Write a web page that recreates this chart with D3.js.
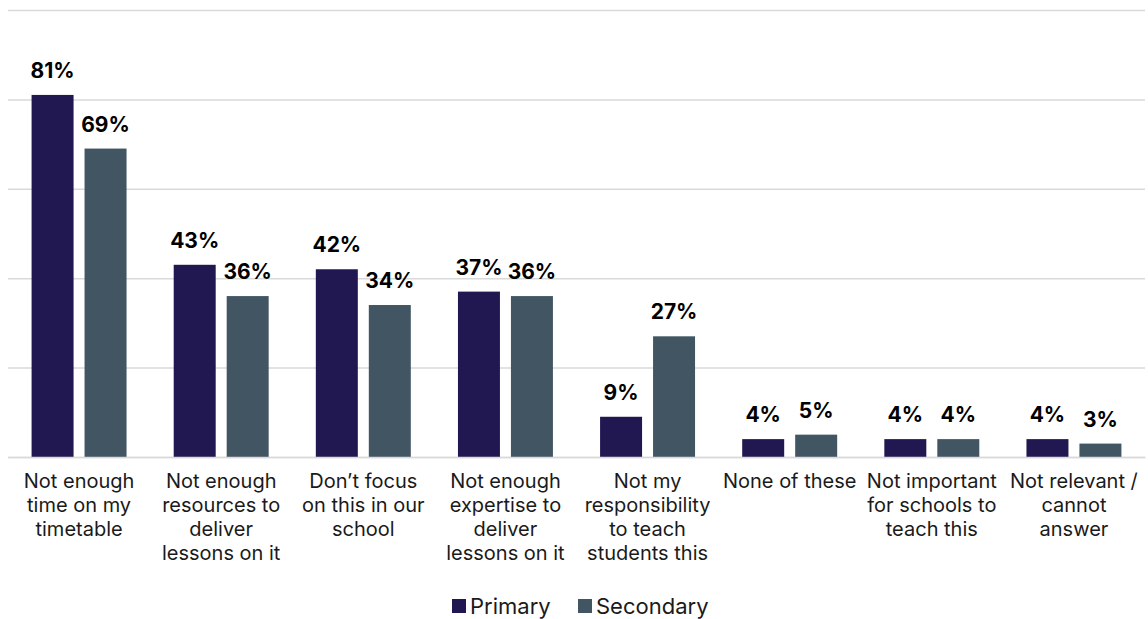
<!DOCTYPE html>
<html>
<head>
<meta charset="utf-8">
<script src="https://cdn.jsdelivr.net/npm/d3@7"></script>
<style>
  body { margin: 0; background: #fff; }
  svg { display: block; font-family: Inter, "Noto Sans", sans-serif; }
</style>
</head>
<body>
<svg width="1148" height="619"></svg>
<script>
const categories = [
  ["Not enough", "time on my", "timetable"],
  ["Not enough", "resources to", "deliver", "lessons on it"],
  ["Don\u2019t focus", "on this in our", "school"],
  ["Not enough", "expertise to", "deliver", "lessons on it"],
  ["Not my", "responsibility", "to teach", "students this"],
  ["None of these"],
  ["Not important", "for schools to", "teach this"],
  ["Not relevant /", "cannot", "answer"]
]
const seriesNames = ["Primary", "Secondary"]
const primary = [81, 43, 42, 37, 9, 4, 4, 4]
const secondary = [69, 36, 34, 36, 27, 5, 4, 3]
const yTicks = [0, 20, 40, 60, 80, 100]
const colors = ["#211852", "#425563"]

var svg = d3.select("svg"),
  plotLeft = 8, plotRight = 1145, plotTop = 10, plotBottom = 457

var keys = categories.map(function (d, i) { return "c" + i })

var x0 = d3.scaleBand().domain(keys).range([plotLeft, plotRight]).padding(0)
var x1 = d3.scaleBand().domain(seriesNames).range([0, x0.bandwidth()])
  .paddingInner(0.2075).paddingOuter(0.445)
var y = d3.scaleLinear().domain([0, 100]).range([plotBottom, plotTop])

// gridlines
svg.append("g")
  .attr("transform", "translate(" + plotLeft + ",0)")
  .call(d3.axisLeft(y).tickValues(yTicks).tickSize(-(plotRight - plotLeft)).tickFormat(""))
  .call(function (g) {
    g.select(".domain").remove()
    g.selectAll("line").attr("stroke", "#d9d9d9").attr("stroke-width", 1.5)
  })

var rows = keys.map(function (k, i) {
  return { key: k, vals: [{ s: "Primary", v: primary[i] }, { s: "Secondary", v: secondary[i] }] }
})

var groups = svg.selectAll(".grp")
  .data(rows)
  .enter().append("g")
  .attr("class", "grp")
  .attr("transform", function (d) { return "translate(" + x0(d.key) + ",0)" })

groups.selectAll("rect")
  .data(function (d) { return d.vals })
  .enter().append("rect")
  .attr("x", function (d) { return x1(d.s) })
  .attr("width", x1.bandwidth())
  .attr("y", function (d) { return y(d.v) })
  .attr("height", function (d) { return plotBottom - y(d.v) })
  .attr("fill", function (d, i) { return colors[i] })

groups.selectAll(".val")
  .data(function (d) { return d.vals })
  .enter().append("text")
  .attr("class", "val")
  .attr("x", function (d) { return x1(d.s) + x1.bandwidth() / 2 })
  .attr("y", function (d) { return y(d.v) - 17 })
  .attr("text-anchor", "middle")
  .attr("font-size", 21)
  .attr("font-weight", 700)
  .attr("fill", "#000")
  .text(function (d) { return d.v + "%" })

// category labels
var xAxis = svg.append("g")
  .attr("transform", "translate(0," + plotBottom + ")")
  .call(d3.axisBottom(x0).tickSize(0).tickFormat(""))
xAxis.select(".domain").attr("stroke", "#d9d9d9").attr("stroke-width", 1.5)

categories.forEach(function (lines, i) {
  var cx = x0(keys[i]) + x0.bandwidth() / 2
  var t = svg.append("text")
    .attr("x", cx)
    .attr("y", 488)
    .attr("text-anchor", "middle")
    .attr("font-size", 20)
    .attr("fill", "#1a1a1a")
  lines.forEach(function (line, j) {
    t.append("tspan")
      .attr("x", cx)
      .attr("dy", j === 0 ? 0 : 24)
      .text(line)
  })
})

// legend
var legend = svg.append("g").attr("transform", "translate(452,606)")
var lx = [0, 126]
seriesNames.forEach(function (name, i) {
  legend.append("rect")
    .attr("x", lx[i]).attr("y", -7)
    .attr("width", 14).attr("height", 14)
    .attr("fill", colors[i])
  legend.append("text")
    .attr("x", lx[i] + 18).attr("y", 8)
    .attr("font-size", 22)
    .attr("fill", "#1a1a1a")
    .text(name)
})
</script>
</body>
</html>
